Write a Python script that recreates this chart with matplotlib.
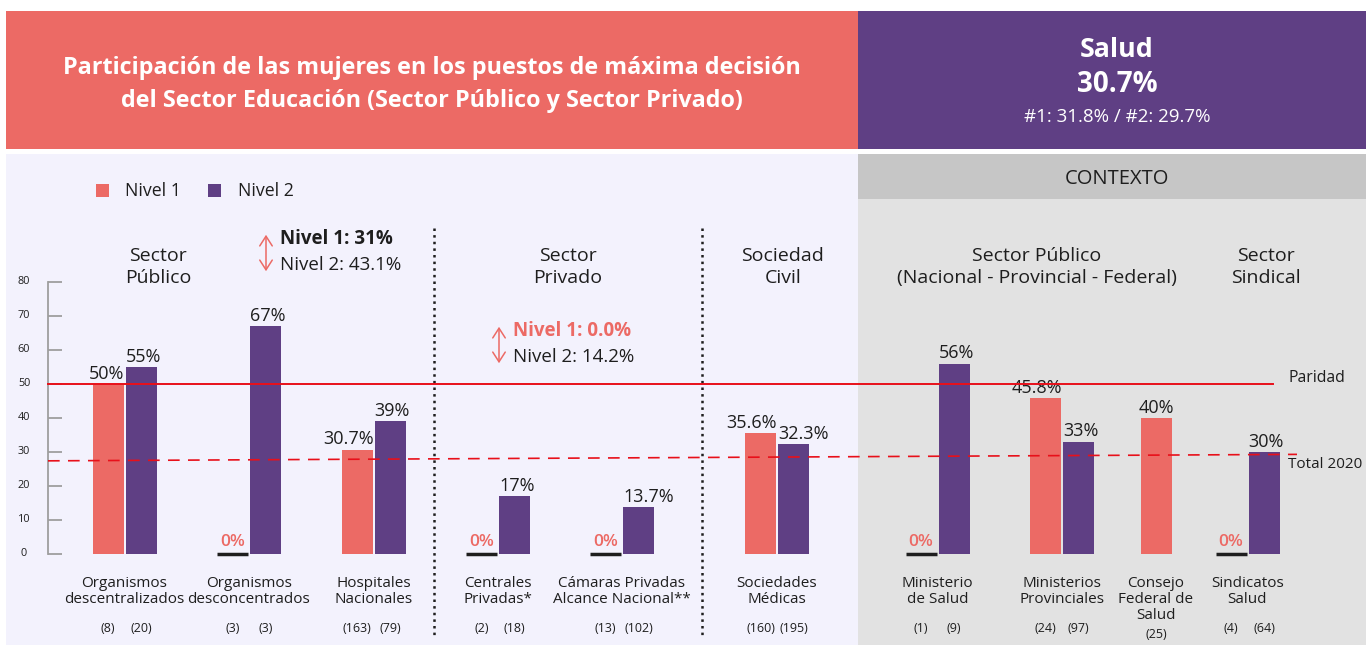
import matplotlib.pyplot as plt
from matplotlib.patches import Rectangle

plt.rcParams['font.family'] = ['Open Sans', 'DejaVu Sans']

# ── Colours ───────────────────────────────────────────────────────────────────
SALMON = "#EC6A65"
PURPLE = "#5F3F84"
LAVENDER = "#F3F2FD"
GRAY_BG = "#E2E2E2"
GRAY_BAND = "#C6C6C6"
AXIS_GRAY = "#9E9E9E"
RED = "#E8101A"
INK = "#1E1E1E"

# ── Data ──────────────────────────────────────────────────────────────────────
categories = [
    "Organismos\ndescentralizados", "Organismos\ndesconcentrados",
    "Hospitales\nNacionales", "Centrales\nPrivadas*",
    "Cámaras Privadas\nAlcance Nacional**", "Sociedades\nMédicas",
    "Ministerio\nde Salud", "Ministerios\nProvinciales",
    "Consejo\nFederal de\nSalud", "Sindicatos\nSalud",
]
nivel1 = [50, 0, 30.7, 0, 0, 35.6, 0, 45.8, 40, 0]
nivel2 = [55, 67, 39, 17, 13.7, 32.3, 56, 33, None, 30]
count1 = ["(8)", "(3)", "(163)", "(2)", "(13)", "(160)", "(1)", "(24)", "(25)", "(4)"]
count2 = ["(20)", "(3)", "(79)", "(18)", "(102)", "(195)", "(9)", "(97)", None, "(64)"]

yticks = [0, 10, 20, 30, 40, 50, 60, 70, 80]
paridad = 50
total_2020 = [27.4, 29.3]   # reference line is drawn slightly tilted in the original

sections = [
    ("Sector\nPúblico", 158),
    ("Sector\nPrivado", 568),
    ("Sociedad\nCivil", 783),
    ("Sector Público\n(Nacional - Provincial - Federal)", 1037),
    ("Sector\nSindical", 1266),
]

# ── Layout (pixel space) ─────────────────────────────────────────────────────
W, H = 1366, 645
SPLIT_X = 858
group_x = [124.5, 249, 373.5, 498, 622, 777, 937.5, 1062, 1156, 1247.5]
BAR_W = 31
Y0_PX = 554          # pixel row of value 0
PX_PER_UNIT = 3.4
AXIS_X = 48

fig = plt.figure(figsize=(W / 100, H / 100), dpi=100)

deco = fig.add_axes([0, 0, 1, 1])
deco.set_xlim(0, W)
deco.set_ylim(H, 0)
deco.axis("off")

ax = fig.add_axes([0, 0, 1, 1], zorder=2)
ax.set_xlim(0, W)
ax.set_ylim((Y0_PX - H) / PX_PER_UNIT, Y0_PX / PX_PER_UNIT)
ax.axis("off")
ax.patch.set_alpha(0)

# ── Background panels ────────────────────────────────────────────────────────
deco.add_patch(Rectangle((6, 11), SPLIT_X - 6, 138, color=SALMON, lw=0))
deco.add_patch(Rectangle((SPLIT_X, 11), W - SPLIT_X, 138, color=PURPLE, lw=0))
deco.add_patch(Rectangle((6, 154), SPLIT_X - 6, 491, color=LAVENDER, lw=0))
deco.add_patch(Rectangle((SPLIT_X, 154), W - SPLIT_X, 491, color=GRAY_BG, lw=0))
deco.add_patch(Rectangle((SPLIT_X, 154), W - SPLIT_X, 45, color=GRAY_BAND, lw=0))

deco.text(432, 84.5, "Participación de las mujeres en los puestos de máxima decisión\n"
          "del Sector Educación (Sector Público y Sector Privado)",
          ha="center", va="center", color="white", fontsize=16.8, fontweight="bold",
          linespacing=1.52)
deco.text(1117, 50, "Salud", ha="center", va="center", color="white",
          fontsize=19.3, fontweight="bold")
deco.text(1117, 84, "30.7%", ha="center", va="center", color="white",
          fontsize=20, fontweight="bold")
deco.text(1117, 117, "#1: 31.8% / #2: 29.7%", ha="center", va="center",
          color="white", fontsize=13.5)
deco.text(1117, 179, "CONTEXTO", ha="center", va="center", color=INK, fontsize=14.5)

# legend
deco.add_patch(Rectangle((96, 184), 13, 13, color=SALMON, lw=0))
deco.text(125, 190.5, "Nivel 1", va="center", color=INK, fontsize=12.8)
deco.add_patch(Rectangle((208, 184), 13, 13, color=PURPLE, lw=0))
deco.text(238, 190.5, "Nivel 2", va="center", color=INK, fontsize=12.8)

for title, x in sections:
    deco.text(x, 267, title, ha="center", va="center", color=INK, fontsize=14,
              fontweight="medium", linespacing=1.22)

# sector summaries with double arrows
deco.annotate("", xy=(266, 232), xytext=(266, 274),
              arrowprops=dict(arrowstyle="<->,head_length=0.7,head_width=0.45",
                              color=SALMON, lw=1.1))
deco.text(280, 239, "Nivel 1: 31%", va="center", color=INK, fontsize=13.5,
          fontweight="bold")
deco.text(280, 265, "Nivel 2: 43.1%", va="center", color=INK, fontsize=13.5)

deco.annotate("", xy=(499, 324), xytext=(499, 366),
              arrowprops=dict(arrowstyle="<->,head_length=0.7,head_width=0.45",
                              color=SALMON, lw=1.1))
deco.text(513, 331, "Nivel 1: 0.0%", va="center", color=SALMON, fontsize=13.5,
          fontweight="bold")
deco.text(513, 357, "Nivel 2: 14.2%", va="center", color=INK, fontsize=13.5)

# dotted separators
for sx in (434, 702):
    deco.plot([sx, sx], [228, 638], color=INK, lw=1.8, ls=":")

# ── Axis ──────────────────────────────────────────────────────────────────────
ax.plot([AXIS_X, AXIS_X], [0, yticks[-1]], color=AXIS_GRAY, lw=1.3)
ax.hlines(yticks, AXIS_X, AXIS_X + 14, color=AXIS_GRAY, lw=1.3)
for t in yticks:
    ax.text(24, t, str(t), ha="center", va="center", color=INK, fontsize=7.8)


# ── Bars ──────────────────────────────────────────────────────────────────────
def draw_bar(x, v, color, ha):
    if v == 0:
        ax.plot([x - BAR_W / 2, x + BAR_W / 2], [0, 0], color=INK, lw=2.5,
                solid_capstyle="butt", zorder=3)
        ax.annotate("0%", (x, 0), xytext=(0, 3), textcoords="offset points",
                    ha="center", va="bottom", color=SALMON, fontsize=12.5,
                    fontweight="semibold")
        return
    ax.bar(x, v, width=BAR_W, color=color, zorder=2)
    anchor = {"center": x, "right": x + BAR_W / 2 + 1, "left": x - BAR_W / 2}[ha]
    ax.annotate(f"{v:g}%", (anchor, v), xytext=(0, 1), textcoords="offset points",
                ha=ha, va="bottom", color=INK, fontsize=13)


for i, gx in enumerate(group_x):
    if nivel2[i] is None:
        draw_bar(gx, nivel1[i], SALMON, "center")
        deco.text(gx, 635, count1[i], ha="center", va="center", color=INK, fontsize=9)
    else:
        x1, x2 = gx - BAR_W / 2 - 1, gx + BAR_W / 2 + 1
        draw_bar(x1, nivel1[i], SALMON, "right")
        draw_bar(x2, nivel2[i], PURPLE, "left")
        deco.text(x1, 628, count1[i], ha="center", va="center", color=INK, fontsize=9)
        deco.text(x2, 628, count2[i], ha="center", va="center", color=INK, fontsize=9)
    deco.text(gx, 576, categories[i], ha="center", va="top", color=INK,
              fontsize=11, linespacing=1.07)

# ── Reference lines ──────────────────────────────────────────────────────────
ax.plot([AXIS_X, 1273], [paridad, paridad], color=RED, lw=1.4, zorder=4)
ax.plot([AXIS_X, 1297], total_2020, color=RED, lw=1.2, ls=(0, (7, 5)), zorder=4)
deco.text(1288, 378, "Paridad", va="center", color=INK, fontsize=11.3)
deco.text(1288, 465, "Total 2020", va="center", color=INK, fontsize=11)

fig.savefig("out.png", dpi=100)
